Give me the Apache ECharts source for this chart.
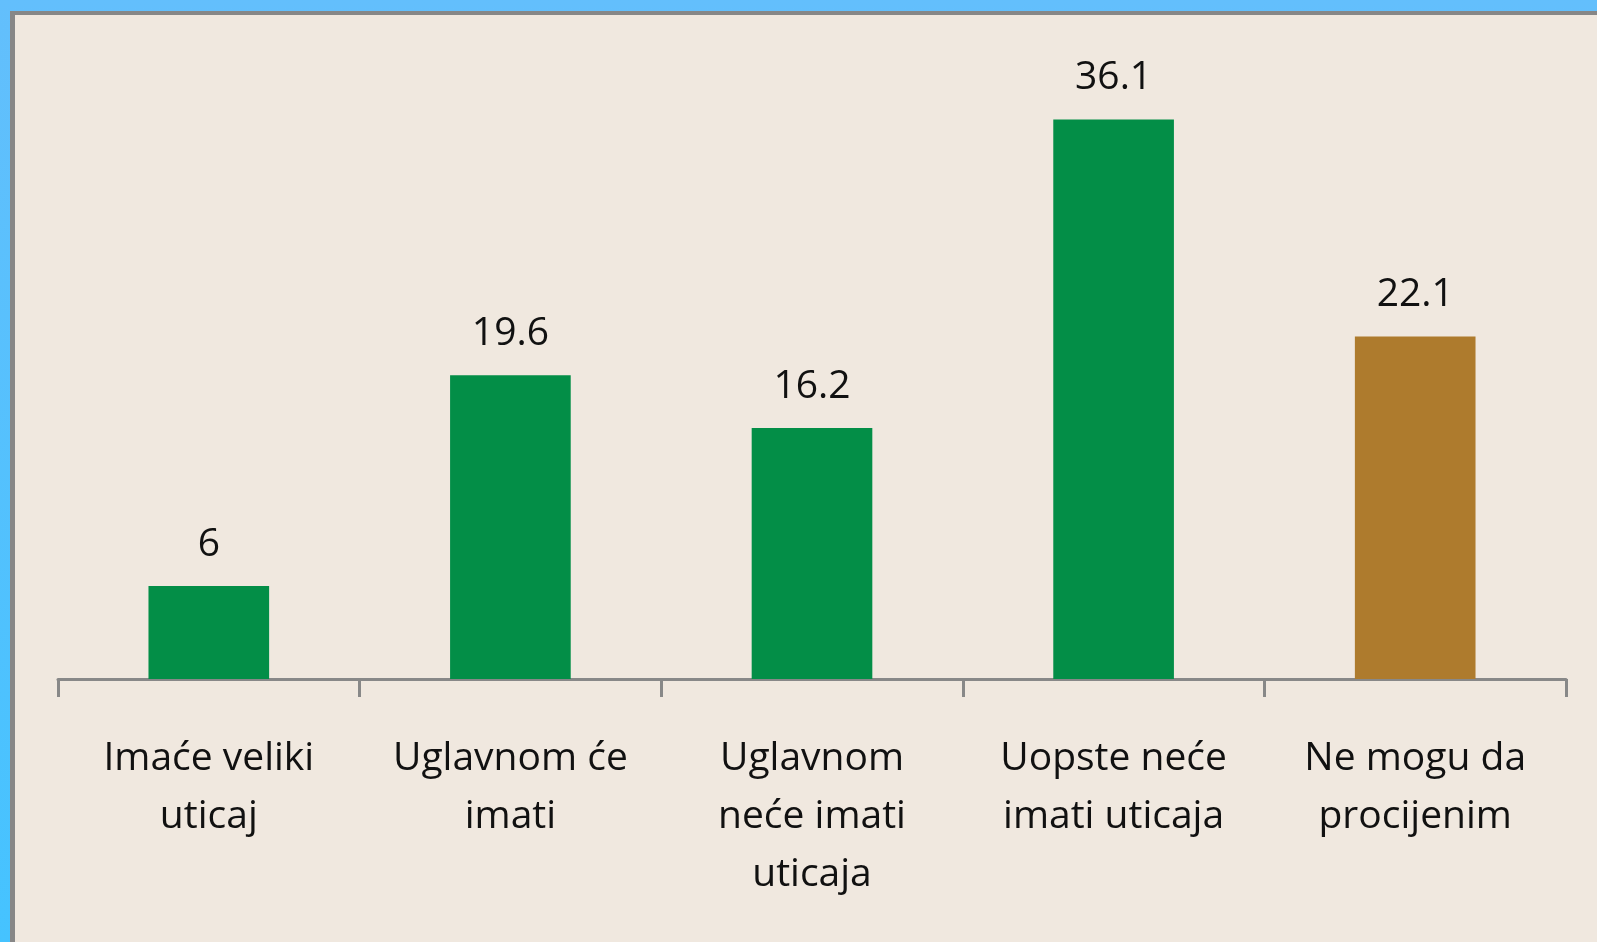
<!DOCTYPE html>
<html>
<head>
<meta charset="utf-8">
<script src="https://cdn.jsdelivr.net/npm/echarts@6/dist/echarts.min.js"></script>
<style>
  html, body { margin: 0; padding: 0; width: 1597px; height: 942px; overflow: hidden; }
  body { background: linear-gradient(#63bffc, #45c3ff); }
  #frame { position: absolute; left: 10px; top: 11px; right: 0; bottom: 0; background: #878787; }
  #chart { position: absolute; left: 15px; top: 15px; width: 1582px; height: 927px; background: #f0e8df; }
</style>
</head>
<body>
<div id="frame"></div>
<div id="chart"></div>
<script>
// kategorije i vrijednosti (%)
var categories = ['Imaće veliki\nuticaj', 'Uglavnom će\nimati', 'Uglavnom\nneće imati\nuticaja', 'Uopste neće\nimati uticaja', 'Ne mogu da\nprocijenim'];
var values = [6, 19.6, 16.2, 36.1, 22.1];
var barColors = ['#038e47', '#038e47', '#038e47', '#038e47', '#ae7b2d'];

var myChart = echarts.init(document.getElementById('chart'));

var data = [];
for (var i = 0; i < values.length; i++) {
    data.push({ value: values[i], itemStyle: { color: barColors[i] } });
}

var option = {
    animation: false,
    textStyle: { fontFamily: 'Open Sans' },
    grid: { left: 43, right: 31, top: 44, bottom: 263 },
    xAxis: {
        type: 'category',
        data: categories,
        axisLine: { lineStyle: { color: '#888888', width: 3 } },
        axisTick: { show: true, alignWithLabel: false, length: 18, lineStyle: { color: '#888888', width: 3 } },
        axisLabel: {
            interval: 0,
            margin: 51,
            color: '#111111',
            fontSize: 39,
            lineHeight: 58,
            fontFamily: 'Open Sans'
        }
    },
    yAxis: {
        type: 'value',
        min: 0,
        max: 40,
        show: false
    },
    series: [{
        type: 'bar',
        data: data,
        barWidth: '40%',
        label: {
            show: true,
            position: 'top',
            distance: 22,
            color: '#111111',
            fontSize: 39,
            fontFamily: 'Open Sans'
        }
    }]
};

myChart.setOption(option);
</script>
</body>
</html>
